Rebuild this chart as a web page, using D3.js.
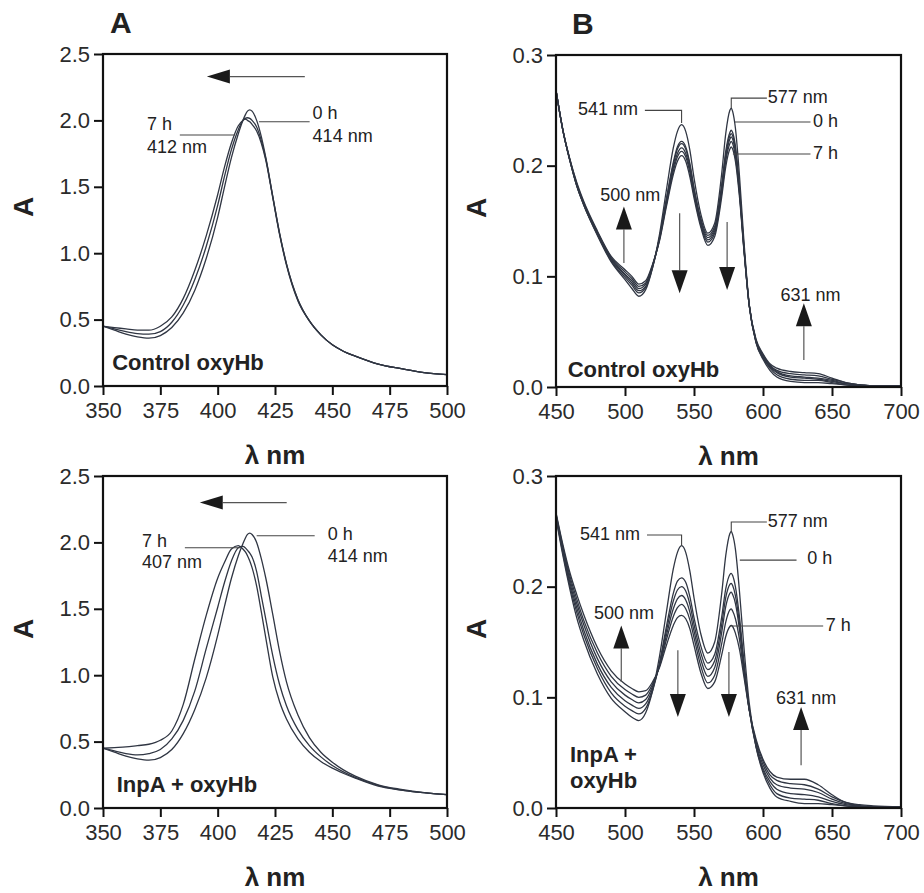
<!DOCTYPE html>
<html>
<head>
<meta charset="utf-8">
<script src="https://cdn.jsdelivr.net/npm/d3@7"></script>
<style>
    body { margin: 0; background: #fff; }
    svg text { font-family: "Liberation Sans", Arial, sans-serif; }
</style>
</head>
<body>
<svg id="chart" width="924" height="893"></svg>
<script>
// ---- data ----
// Soret region (panel A), wavelength grid in nm
let wlA = [350,355,360,365,370,375,380,385,390,395,400,403,406,409,411,412,413,414,415,417,419,421,424,427,430,435,440,445,450,455,460,470,480,490,500];

let ctrlA_0h  = [0.45,0.42,0.39,0.37,0.36,0.38,0.44,0.55,0.72,0.96,1.27,1.50,1.72,1.90,2.00,2.04,2.07,2.08,2.07,2.00,1.88,1.72,1.43,1.15,0.92,0.65,0.49,0.385,0.31,0.26,0.225,0.165,0.13,0.10,0.085];
let ctrlA_mid = [0.45,0.43,0.41,0.395,0.39,0.41,0.48,0.61,0.80,1.05,1.36,1.58,1.78,1.93,2.00,2.015,2.02,2.015,2.00,1.95,1.85,1.71,1.43,1.15,0.92,0.65,0.49,0.385,0.31,0.26,0.225,0.165,0.13,0.10,0.085];
let ctrlA_7h  = [0.45,0.44,0.43,0.42,0.42,0.45,0.52,0.66,0.87,1.13,1.44,1.65,1.83,1.96,2.00,2.01,2.00,1.99,1.97,1.92,1.83,1.70,1.42,1.14,0.91,0.64,0.49,0.385,0.31,0.26,0.225,0.165,0.13,0.10,0.085];

let inpaA_0h  = [0.45,0.42,0.39,0.37,0.36,0.38,0.44,0.56,0.74,0.98,1.30,1.52,1.73,1.90,1.99,2.03,2.06,2.07,2.06,2.00,1.88,1.73,1.46,1.18,0.95,0.70,0.53,0.42,0.345,0.285,0.24,0.175,0.14,0.115,0.10];
let inpaA_mid = [0.45,0.43,0.41,0.40,0.41,0.44,0.52,0.66,0.88,1.20,1.51,1.70,1.86,1.96,1.97,1.96,1.94,1.92,1.89,1.78,1.60,1.42,1.15,0.93,0.77,0.59,0.47,0.385,0.32,0.27,0.23,0.17,0.135,0.115,0.10];
let inpaA_7h  = [0.45,0.455,0.46,0.47,0.48,0.51,0.58,0.78,1.12,1.45,1.73,1.85,1.95,1.975,1.95,1.93,1.90,1.86,1.81,1.67,1.48,1.28,0.99,0.80,0.67,0.52,0.42,0.35,0.30,0.26,0.225,0.165,0.135,0.115,0.10];

// visible region (panel B), wavelength grid in nm
let wlB = [450,455,460,465,470,480,490,500,505,510,515,520,525,530,535,538,541,544,547,550,555,560,565,570,573,576,577,578,580,583,586,590,595,600,605,610,620,630,640,650,660,670,680,700];

let ctrlB_t0 = [0.268,0.232,0.205,0.182,0.165,0.137,0.113,0.097,0.089,0.082,0.088,0.108,0.138,0.178,0.216,0.231,0.237,0.231,0.214,0.189,0.156,0.139,0.148,0.192,0.229,0.250,0.252,0.249,0.234,0.190,0.135,0.075,0.040,0.025,0.015,0.009,0.005,0.004,0.004,0.003,0.002,0.001,0.001,0.001];
let ctrlB_t1 = [0.268,0.232,0.205,0.182,0.165,0.138,0.114,0.099,0.092,0.085,0.090,0.108,0.135,0.170,0.203,0.217,0.222,0.217,0.202,0.180,0.152,0.137,0.145,0.182,0.213,0.230,0.232,0.230,0.218,0.180,0.130,0.074,0.040,0.026,0.017,0.011,0.007,0.006,0.006,0.004,0.002,0.001,0.001,0.001];
let ctrlB_t2 = [0.268,0.232,0.205,0.182,0.165,0.138,0.115,0.101,0.094,0.087,0.091,0.109,0.135,0.169,0.201,0.215,0.220,0.215,0.200,0.179,0.150,0.135,0.143,0.180,0.210,0.227,0.229,0.227,0.215,0.178,0.129,0.074,0.041,0.027,0.018,0.013,0.009,0.008,0.007,0.005,0.003,0.002,0.001,0.001];
let ctrlB_t3 = [0.268,0.232,0.205,0.183,0.166,0.139,0.116,0.102,0.096,0.089,0.093,0.110,0.134,0.167,0.198,0.211,0.216,0.211,0.197,0.176,0.148,0.133,0.141,0.178,0.207,0.224,0.226,0.224,0.212,0.176,0.128,0.074,0.041,0.028,0.019,0.014,0.010,0.009,0.008,0.006,0.003,0.002,0.001,0.001];
let ctrlB_t4 = [0.268,0.232,0.206,0.184,0.167,0.140,0.117,0.104,0.098,0.091,0.094,0.110,0.133,0.165,0.195,0.208,0.213,0.208,0.194,0.174,0.146,0.131,0.139,0.175,0.204,0.220,0.222,0.220,0.208,0.174,0.127,0.074,0.042,0.029,0.020,0.015,0.012,0.011,0.010,0.007,0.004,0.002,0.001,0.001];
let ctrlB_t5 = [0.268,0.232,0.206,0.185,0.168,0.141,0.118,0.106,0.100,0.093,0.096,0.111,0.132,0.163,0.192,0.204,0.209,0.204,0.190,0.171,0.144,0.128,0.136,0.171,0.199,0.215,0.217,0.215,0.204,0.171,0.126,0.074,0.043,0.030,0.021,0.017,0.014,0.013,0.012,0.008,0.004,0.002,0.001,0.001];

let inpaB_t0 = [0.262,0.228,0.198,0.172,0.152,0.121,0.099,0.087,0.082,0.079,0.086,0.106,0.137,0.177,0.216,0.231,0.237,0.231,0.214,0.190,0.157,0.140,0.150,0.193,0.228,0.248,0.250,0.247,0.234,0.195,0.148,0.095,0.055,0.032,0.018,0.010,0.006,0.004,0.004,0.003,0.002,0.001,0.001,0.001];
let inpaB_t1 = [0.263,0.230,0.201,0.177,0.157,0.126,0.104,0.092,0.088,0.085,0.090,0.106,0.131,0.164,0.194,0.205,0.208,0.204,0.191,0.172,0.146,0.131,0.139,0.172,0.198,0.211,0.212,0.210,0.200,0.172,0.135,0.090,0.055,0.034,0.021,0.013,0.009,0.008,0.007,0.004,0.002,0.001,0.001,0.001];
let inpaB_t2 = [0.264,0.232,0.204,0.181,0.161,0.130,0.109,0.097,0.093,0.090,0.094,0.108,0.130,0.160,0.187,0.197,0.200,0.196,0.184,0.166,0.140,0.125,0.133,0.165,0.190,0.202,0.203,0.201,0.192,0.166,0.131,0.089,0.056,0.036,0.024,0.017,0.013,0.012,0.010,0.006,0.003,0.002,0.001,0.001];
let inpaB_t3 = [0.265,0.234,0.207,0.185,0.166,0.135,0.114,0.102,0.098,0.095,0.098,0.110,0.129,0.156,0.180,0.189,0.192,0.188,0.177,0.160,0.134,0.119,0.127,0.158,0.182,0.194,0.195,0.193,0.185,0.161,0.128,0.089,0.058,0.039,0.027,0.021,0.018,0.017,0.014,0.008,0.004,0.002,0.001,0.001];
let inpaB_t4 = [0.266,0.236,0.210,0.189,0.170,0.140,0.119,0.107,0.103,0.100,0.102,0.112,0.128,0.152,0.173,0.181,0.184,0.180,0.170,0.154,0.128,0.113,0.120,0.148,0.168,0.179,0.180,0.178,0.171,0.152,0.124,0.089,0.060,0.042,0.030,0.025,0.022,0.021,0.017,0.010,0.005,0.002,0.001,0.001];
let inpaB_t5 = [0.267,0.238,0.213,0.193,0.175,0.145,0.124,0.112,0.108,0.105,0.106,0.114,0.127,0.147,0.165,0.172,0.174,0.171,0.162,0.147,0.122,0.108,0.114,0.138,0.155,0.164,0.165,0.164,0.158,0.143,0.120,0.089,0.062,0.044,0.033,0.028,0.026,0.026,0.021,0.012,0.005,0.003,0.002,0.001];

// tick values
let xTicksA = [350, 375, 400, 425, 450, 475, 500];
let yTicksA = [0.0, 0.5, 1.0, 1.5, 2.0, 2.5];
let xTicksB = [450, 500, 550, 600, 650, 700];
let yTicksB = [0.0, 0.1, 0.2, 0.3];

// ---- layout ----
let svg = d3.select("#chart");
let lineColor = "#303643";
let textColor = "#222";

let panels = [
    {
        letter: "A", left: 103, top: 54, width: 344, height: 332,
        xDomain: [350, 500], yDomain: [0, 2.5], xTicks: xTicksA, yTicks: yTicksA,
        wl: wlA, series: [ctrlA_7h, ctrlA_mid, ctrlA_0h],
        texts: [
            {t: "0 h", x: 441.4, y: 2.01}, {t: "414 nm", x: 441.4, y: 1.84},
            {t: "7 h", x: 369.2, y: 1.93}, {t: "412 nm", x: 369.2, y: 1.755},
            {t: "Control oxyHb", x: 354, y: 0.12, bold: true}
        ],
        leaders: [
            [[418, 1.99], [440.1, 1.99]],
            [[383.5, 1.89], [407.5, 1.89]]
        ],
        arrows: [{from: [438, 2.33], to: [395.3, 2.33], hw: 7}]
    },
    {
        letter: "B", left: 556, top: 55, width: 345, height: 332,
        xDomain: [450, 700], yDomain: [0, 0.3], xTicks: xTicksB, yTicks: yTicksB,
        wl: wlB, series: [ctrlB_t5, ctrlB_t4, ctrlB_t3, ctrlB_t2, ctrlB_t1, ctrlB_t0],
        texts: [
            {t: "541 nm", x: 466, y: 0.246}, {t: "577 nm", x: 603.5, y: 0.257},
            {t: "0 h", x: 636.3, y: 0.235}, {t: "7 h", x: 636.3, y: 0.206},
            {t: "500 nm", x: 482, y: 0.168}, {t: "631 nm", x: 612.7, y: 0.0777},
            {t: "Control oxyHb", x: 458.5, y: 0.0093, bold: true}
        ],
        leaders: [
            [[514.4, 0.25], [541, 0.25], [541, 0.2385]],
            [[577, 0.252], [577, 0.261], [602.8, 0.261]],
            [[579.6, 0.2395], [634.4, 0.2395]],
            [[578.2, 0.2105], [634.4, 0.2105]]
        ],
        arrows: [
            {from: [499.2, 0.112], to: [499.2, 0.163], hw: 8},
            {from: [539.6, 0.157], to: [539.6, 0.0847], hw: 8},
            {from: [574, 0.149], to: [574, 0.0876], hw: 8},
            {from: [629.6, 0.0244], to: [629.6, 0.0756], hw: 8}
        ]
    },
    {
        letter: null, left: 103, top: 476, width: 344, height: 332,
        xDomain: [350, 500], yDomain: [0, 2.5], xTicks: xTicksA, yTicks: yTicksA,
        wl: wlA, series: [inpaA_7h, inpaA_mid, inpaA_0h],
        texts: [
            {t: "0 h", x: 448, y: 2.02}, {t: "414 nm", x: 448, y: 1.85},
            {t: "7 h", x: 367, y: 1.965}, {t: "407 nm", x: 367, y: 1.81},
            {t: "InpA + oxyHb", x: 356, y: 0.12, bold: true}
        ],
        leaders: [
            [[417, 2.05], [442.3, 2.05]],
            [[385.7, 1.96], [409.7, 1.96]]
        ],
        arrows: [{from: [430.1, 2.30], to: [392.2, 2.30], hw: 7}]
    },
    {
        letter: null, left: 556, top: 476, width: 345, height: 332,
        xDomain: [450, 700], yDomain: [0, 0.3], xTicks: xTicksB, yTicks: yTicksB,
        wl: wlB, series: [inpaB_t5, inpaB_t4, inpaB_t3, inpaB_t2, inpaB_t1, inpaB_t0],
        texts: [
            {t: "541 nm", x: 467.4, y: 0.242}, {t: "577 nm", x: 603.5, y: 0.254},
            {t: "0 h", x: 632, y: 0.2205}, {t: "7 h", x: 645.5, y: 0.160},
            {t: "500 nm", x: 477.5, y: 0.171}, {t: "631 nm", x: 609.5, y: 0.094},
            {t: "InpA +", x: 460.1, y: 0.0419, bold: true}, {t: "oxyHb", x: 460.1, y: 0.0178, bold: true}
        ],
        leaders: [
            [[515.9, 0.2467], [541, 0.2467], [541, 0.2367]],
            [[577, 0.2494], [577, 0.2584], [602.8, 0.2584]],
            [[583.2, 0.224], [624.3, 0.224]],
            [[576, 0.1645], [643.6, 0.1645]]
        ],
        arrows: [
            {from: [497.3, 0.1139], to: [497.3, 0.165], hw: 8},
            {from: [538.3, 0.1425], to: [538.3, 0.0822], hw: 8},
            {from: [575.3, 0.141], to: [575.3, 0.0822], hw: 8},
            {from: [627.6, 0.0386], to: [627.6, 0.0913], hw: 8}
        ]
    }
];

function drawPanel(p) {
    let g = svg.append("g").attr("transform", "translate(" + p.left + "," + p.top + ")");

    let x = d3.scaleLinear().domain(p.xDomain).range([0, p.width]);
    let y = d3.scaleLinear().domain(p.yDomain).range([p.height, 0]);

    // axes: outward ticks, labels; the frame is drawn separately
    let xAxis = g.append("g")
        .attr("transform", "translate(0," + p.height + ")")
        .call(d3.axisBottom(x).tickValues(p.xTicks).tickSize(9).tickSizeOuter(0)
            .tickPadding(7).tickFormat(d3.format("d")));
    let yAxis = g.append("g")
        .call(d3.axisLeft(y).tickValues(p.yTicks).tickSize(9).tickSizeOuter(0)
            .tickPadding(4).tickFormat(d3.format(".1f")));

    [xAxis, yAxis].forEach(function (a) {
        a.select(".domain").remove();
        a.selectAll(".tick line").attr("stroke", "#111").attr("stroke-width", 2);
        a.selectAll(".tick text").attr("font-size", 22).attr("fill", "#2b2b2b")
            .attr("font-family", "Liberation Sans, Arial, sans-serif");
    });

    // spectra
    let line = d3.line()
        .x(function (d, i) { return x(p.wl[i]); })
        .y(function (d) { return y(d); })
        .curve(d3.curveMonotoneX);

    g.append("g").selectAll("path")
        .data(p.series)
        .enter().append("path")
        .attr("d", line)
        .attr("fill", "none")
        .attr("stroke", lineColor)
        .attr("stroke-width", 1.3);

    // frame
    g.append("rect")
        .attr("width", p.width)
        .attr("height", p.height)
        .attr("fill", "none")
        .attr("stroke", "#111")
        .attr("stroke-width", 2.2);

    // leader lines
    let leader = d3.line()
        .x(function (d) { return x(d[0]); })
        .y(function (d) { return y(d[1]); });
    g.append("g").selectAll("path")
        .data(p.leaders)
        .enter().append("path")
        .attr("d", leader)
        .attr("fill", "none")
        .attr("stroke", "#444")
        .attr("stroke-width", 1.1);

    // arrows (shaft + filled head)
    let headLen = 23;
    p.arrows.forEach(function (a) {
        let x0 = x(a.from[0]), y0 = y(a.from[1]);
        let x1 = x(a.to[0]), y1 = y(a.to[1]);
        let len = Math.hypot(x1 - x0, y1 - y0);
        let ux = (x1 - x0) / len, uy = (y1 - y0) / len;
        let bx = x1 - ux * headLen, by = y1 - uy * headLen;
        g.append("line")
            .attr("x1", x0).attr("y1", y0)
            .attr("x2", bx).attr("y2", by)
            .attr("stroke", "#555")
            .attr("stroke-width", 1.2);
        g.append("path")
            .attr("d", "M" + x1 + "," + y1 +
                "L" + (bx - uy * a.hw) + "," + (by + ux * a.hw) +
                "L" + (bx + uy * a.hw) + "," + (by - ux * a.hw) + "Z")
            .attr("fill", "#1a1a1a");
    });

    // annotation text
    g.append("g").selectAll("text")
        .data(p.texts)
        .enter().append("text")
        .attr("x", function (d) { return x(d.x); })
        .attr("y", function (d) { return y(d.y); })
        .attr("font-size", function (d) { return d.bold ? 22 : 18; })
        .attr("font-weight", function (d) { return d.bold ? "bold" : "normal"; })
        .attr("fill", textColor)
        .text(function (d) { return d.t; });

    // axis titles
    g.append("text")
        .attr("x", p.width / 2)
        .attr("y", p.height + 78)
        .attr("text-anchor", "middle")
        .attr("font-size", 26)
        .attr("font-weight", "bold")
        .attr("fill", textColor)
        .text("λ nm");

    g.append("text")
        .attr("transform", "translate(-70," + (p.height / 2 - 13) + ") rotate(-90)")
        .attr("text-anchor", "middle")
        .attr("font-size", 28)
        .attr("font-weight", "bold")
        .attr("fill", textColor)
        .text("A");

    if (p.letter) {
        g.append("text")
            .attr("x", p.letter == "A" ? 7 : 16)
            .attr("y", -21)
            .attr("font-size", 30)
            .attr("font-weight", "bold")
            .attr("fill", textColor)
            .text(p.letter);
    }
}

panels.forEach(drawPanel);
</script>
</body>
</html>
